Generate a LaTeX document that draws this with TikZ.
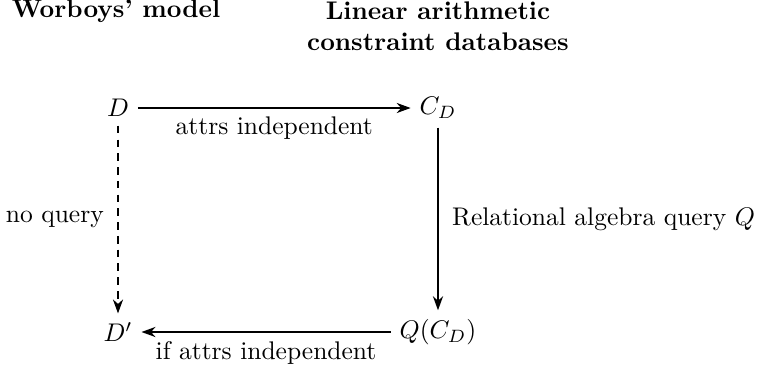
\documentclass[tikz,border=0pt]{standalone}
\usepackage{amsmath}
\usepackage{amssymb}
\usepackage{xcolor}
\usepackage{tikz}
\usetikzlibrary{shapes,arrows.meta,positioning,calc,fit}

\begin{document}
\begin{tikzpicture}[
        x=0.392pt, y=-0.392pt,
        obj/.style={inner sep=3.33pt},
        head/.style={font=\bfseries, align=center},
        arrow/.style={-{Stealth[length=5.5pt, width=4pt]}, line width=0.5pt},
        noarrow/.style={arrow, dash pattern=on 3pt off 2.4pt}
    ]
        \useasboundingbox (0,0) rectangle (759,370);

        % Column heads
        \node[head] (hw) at (116,11) {Worboys' model};
        \node[head] (hl) at (438,26) {Linear arithmetic\\constraint databases};

        % Objects
        \node[obj] (d) at (118,108) {$D$};
        \node[obj] (cd) at (438,108) {$C_D$};
        \node[obj] (dp) at (118,332) {$D'$};
        \node[obj] (qcd) at (438,332) {$Q(C_D)$};

        % Connections
        \draw[arrow] (d) -- node[below] {attrs independent} (cd);
        \draw[arrow] (cd) -- node[right=2pt] {Relational algebra query $Q$} (qcd);
        \draw[arrow] (qcd) -- node[below] {if attrs independent} (dp);
        \draw[noarrow] (d) -- node[left=2pt] {no query} (dp);

    \end{tikzpicture}
\end{document}
